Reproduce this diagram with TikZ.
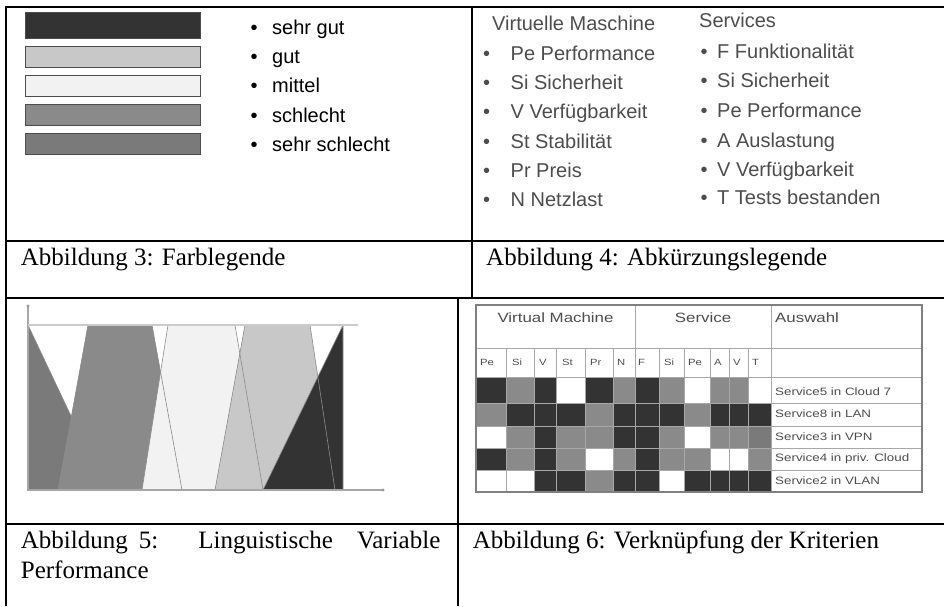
\documentclass[tikz,border=0pt]{standalone}
\usepackage{fontspec}
\setmainfont{Liberation Serif}
\setsansfont{Liberation Sans}
\usepackage{graphicx}
\definecolor{sehrgut}{HTML}{333333}
\definecolor{gut}{HTML}{C8C8C8}
\definecolor{mittel}{HTML}{F2F2F2}
\definecolor{schlecht}{HTML}{8A8A8A}
\definecolor{sehrschlecht}{HTML}{7A7A7A}
\definecolor{bildtext}{HTML}{4D4D4D}
\definecolor{gitter}{HTML}{A8A8A8}
\newcommand{\breit}[1]{\scalebox{1.25}[1]{#1}}
\tikzset{
    rahmen/.style={line width=2pt},
    balken/.style={draw=black!70, line width=0.8pt},
    legtext/.style={anchor=base west, inner sep=0pt, font=\sffamily\fontsize{20}{24}\selectfont},
    abktext/.style={legtext, text=bildtext},
    caption/.style={anchor=base west, inner sep=0pt, font=\fontsize{25}{30}\selectfont},
    kante/.style={draw=black!45, line width=0.6pt},
    achse/.style={draw=black!35, line width=1.2pt},
    zelle/.style={draw=gitter, line width=0.6pt},
    kopf/.style={inner sep=0pt, text=bildtext, font=\sffamily\fontsize{13.5}{16}\selectfont},
    klein/.style={anchor=west, inner sep=0pt, text=bildtext, font=\sffamily\fontsize{9}{10}\selectfont},
    zeile/.style={anchor=west, inner sep=0pt, text=bildtext, font=\sffamily\fontsize{10.7}{12}\selectfont}
}
\begin{document}
\begin{tikzpicture}[x=1pt, y=-1pt]
    \useasboundingbox (0,0) rectangle (944,606);
    % Tabellenrahmen
    \draw[rahmen] (6,606) -- (6,6.5) -- (944,6.5);
    \draw[rahmen] (6,241) -- (944,241);
    \draw[rahmen] (6,298) -- (944,298);
    \draw[rahmen] (6,524) -- (944,524);
    \draw[rahmen] (472,6.5) -- (472,298);
    \draw[rahmen] (457.5,298) -- (457.5,606);
    % Abbildung 3: Farblegende
    \draw[balken, fill=sehrgut] (25,12.7) rectangle (200,38.7);
    \draw[balken, fill=gut] (25,46) rectangle (200,67.7);
    \draw[balken, fill=mittel] (25,75) rectangle (200,96.7);
    \draw[balken, fill=schlecht] (25,104) rectangle (200,125.7);
    \draw[balken, fill=sehrschlecht] (25,133) rectangle (200,154.7);
    \node[legtext] (leg1) at (250.5,34.3) {\makebox[21.5pt][l]{•}sehr gut};
    \node[legtext] (leg2) at (250.5,63.5) {\makebox[21.5pt][l]{•}gut};
    \node[legtext] (leg3) at (250.5,92.5) {\makebox[21.5pt][l]{•}mittel};
    \node[legtext] (leg4) at (250.5,122) {\makebox[21.5pt][l]{•}schlecht};
    \node[legtext] (leg5) at (250.5,151.7) {\makebox[21.5pt][l]{•}sehr schlecht};
    % Abbildung 4: Abkuerzungen
    \node[abktext] (vm) at (492,30) {Virtuelle Maschine};
    \node[abktext] (vm1) at (483,60) {\makebox[27.5pt][l]{•}Pe Performance};
    \node[abktext] (vm2) at (483,89) {\makebox[27.5pt][l]{•}Si Sicherheit};
    \node[abktext] (vm3) at (483,118) {\makebox[27.5pt][l]{•}V Verfügbarkeit};
    \node[abktext] (vm4) at (483,148) {\makebox[27.5pt][l]{•}St Stabilität};
    \node[abktext] (vm5) at (483,177) {\makebox[27.5pt][l]{•}Pr Preis};
    \node[abktext] (vm6) at (483,206) {\makebox[27.5pt][l]{•}N Netzlast};
    \node[abktext] (sv) at (699,27) {Services};
    \node[abktext] (sv1) at (700.5,58) {\makebox[16.5pt][l]{•}F Funktionalität};
    \node[abktext] (sv2) at (700.5,87) {\makebox[16.5pt][l]{•}Si Sicherheit};
    \node[abktext] (sv3) at (700.5,117) {\makebox[16.5pt][l]{•}Pe Performance};
    \node[abktext] (sv4) at (700.5,147) {\makebox[16.5pt][l]{•}A Auslastung};
    \node[abktext] (sv5) at (700.5,176) {\makebox[16.5pt][l]{•}V Verfügbarkeit};
    \node[abktext] (sv6) at (700.5,204) {\makebox[16.5pt][l]{•}T Tests bestanden};
    \node[caption] (cap3) at (20.7,265) {Abbildung 3: Farblegende};
    \node[caption] (cap4) at (486,265) {Abbildung 4: Abkürzungslegende};
    % Abbildung 5: linguistische Variable
    \fill[sehrschlecht] (28,325) -- (106,490) -- (28,490) -- cycle;
    \fill[schlecht] (58,490) -- (88,325) -- (152,325) -- (182,490) -- cycle;
    \fill[mittel] (142,490) -- (168,325) -- (235,325) -- (263,490) -- cycle;
    \fill[gut] (215,490) -- (245,325) -- (310,325) -- (335,490) -- cycle;
    \fill[sehrgut] (263,490) -- (343,325) -- (343,490) -- cycle;
    \draw[kante] (28,325) -- (106,490);
    \draw[kante] (58,490) -- (88,325) (152,325) -- (182,490);
    \draw[kante] (142,490) -- (168,325) (235,325) -- (263,490);
    \draw[kante] (215,490) -- (245,325) (310,325) -- (335,490);
    \draw[kante] (263,490) -- (343,325) -- (343,490);
    \draw[achse] (28,306) -- (28,490) -- (383,490);
    \draw[achse, draw=black!20] (28,325) -- (358,325);
    \fill[black!40] (28,306) circle (1.6pt);
    \fill[black!40] (383,490) circle (1.6pt);
    \node[caption] (cap5) at (20.7,548) {Abbildung\hspace{11pt}5:\hspace{40pt}Linguistische\hspace{24pt}Variable};
    \node[caption] (cap5b) at (20.7,578) {Performance};
    % Abbildung 6: Verknuepfung
    % Zeile 1
    \fill[sehrgut] (476,377) rectangle (506.7,403) (534,377) rectangle (556.7,403)
        (585,377) rectangle (613.3,403) (635,377) rectangle (659,403);
    \fill[schlecht] (506.7,377) rectangle (534,403) (613.3,377) rectangle (635,403)
        (659,377) rectangle (684,403) (710,377) rectangle (748.3,403);
    % Zeile 2
    \fill[schlecht] (476,403) rectangle (506.7,426) (585,403) rectangle (613.3,426)
        (684,403) rectangle (710,426);
    \fill[sehrgut] (506.7,403) rectangle (585,426) (613.3,403) rectangle (684,426)
        (710,403) rectangle (771,426);
    % Zeile 3
    \fill[sehrgut] (534,426) rectangle (556.7,448.5) (613.3,426) rectangle (659,448.5);
    \fill[schlecht] (506.7,426) rectangle (534,448.5) (556.7,426) rectangle (613.3,448.5)
        (659,426) rectangle (684,448.5) (710,426) rectangle (748.3,448.5);
    \fill[sehrschlecht] (748.3,426) rectangle (771,448.5);
    % Zeile 4
    \fill[sehrgut] (476,448.5) rectangle (506.7,470.5) (534,448.5) rectangle (556.7,470.5)
        (635,448.5) rectangle (659,470.5);
    \fill[schlecht] (506.7,448.5) rectangle (534,470.5) (556.7,448.5) rectangle (585,470.5)
        (613.3,448.5) rectangle (635,470.5) (659,448.5) rectangle (710,470.5)
        (748.3,448.5) rectangle (771,470.5);
    % Zeile 5
    \fill[sehrgut] (534,470.5) rectangle (585,492) (613.3,470.5) rectangle (659,492)
        (684,470.5) rectangle (771,492);
    \fill[schlecht] (585,470.5) rectangle (613.3,492);
    % Gitter
    \draw[zelle] (476,348) -- (922,348) (476,377) -- (922,377) (476,403) -- (922,403)
        (476,426) -- (922,426) (476,448.5) -- (922,448.5) (476,470.5) -- (922,470.5);
    \draw[zelle] (506.7,348) -- (506.7,492) (534,348) -- (534,492) (556.7,348) -- (556.7,492)
        (585,348) -- (585,492) (613.3,348) -- (613.3,492) (659,348) -- (659,492)
        (684,348) -- (684,492) (710,348) -- (710,492) (729.3,348) -- (729.3,492)
        (748.3,348) -- (748.3,492);
    \draw[zelle] (635,305) -- (635,492) (771,305) -- (771,492);
    \draw[draw=black!50, line width=1.2pt] (476,305) rectangle (922,492);
    \node[kopf] (kvm) at (555.5,318) {\breit{Virtual Machine}};
    \node[kopf] (ksv) at (703,318) {\breit{Service}};
    \node[kopf, anchor=west] (kaw) at (775,318) {\breit{Auswahl}};
    \node[klein] (h1) at (480,362) {\breit{Pe}};
    \node[klein] (h2) at (512,362) {\breit{Si}};
    \node[klein] (h3) at (539,362) {\breit{V}};
    \node[klein] (h4) at (562,362) {\breit{St}};
    \node[klein] (h5) at (590,362) {\breit{Pr}};
    \node[klein] (h6) at (617,362) {\breit{N}};
    \node[klein] (h7) at (638,362) {\breit{F}};
    \node[klein] (h8) at (664,362) {\breit{Si}};
    \node[klein] (h9) at (688,362) {\breit{Pe}};
    \node[klein] (h10) at (714,362) {\breit{A}};
    \node[klein] (h11) at (733,362) {\breit{V}};
    \node[klein] (h12) at (752,362) {\breit{T}};
    \node[zeile] (z1) at (775,392) {\breit{Service5 in Cloud 7}};
    \node[zeile] (z2) at (775,413.5) {\breit{Service8 in LAN}};
    \node[zeile] (z3) at (775,437) {\breit{Service3 in VPN}};
    \node[zeile] (z4) at (775,459) {\breit{Service4 in priv. Cloud}};
    \node[zeile] (z5) at (775,480.5) {\breit{Service2 in VLAN}};
    \node[caption] (cap6) at (472.7,548) {Abbildung 6: Verknüpfung der Kriterien};
\end{tikzpicture}
\end{document}
